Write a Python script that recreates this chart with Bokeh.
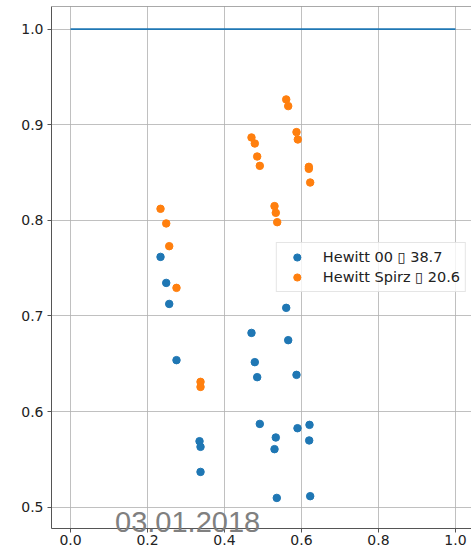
from bokeh.plotting import figure
from bokeh.layouts import column
from bokeh.models import FixedTicker, Span, Div, NumeralTickFormatter
from bokeh.embed import file_html
from bokeh.resources import INLINE

# Hewitt 00 series
h00_x = [0.2338, 0.2486, 0.2564, 0.2753, 0.3351, 0.3377, 0.3377,
         0.4701, 0.4787, 0.4849, 0.4917, 0.5332, 0.5299, 0.5358,
         0.5603, 0.5655, 0.5870, 0.5896, 0.6208, 0.6200, 0.6226]
h00_y = [0.7618, 0.7346, 0.7126, 0.6538, 0.5690, 0.5631, 0.5369,
         0.6823, 0.6517, 0.6360, 0.5871, 0.5729, 0.5607, 0.5097,
         0.7085, 0.6747, 0.6384, 0.5826, 0.5861, 0.5698, 0.5115]

# Hewitt Spirz series
spirz_x = [0.2338, 0.2486, 0.2564, 0.2753, 0.3377, 0.3377,
           0.4701, 0.4787, 0.4849, 0.4917, 0.5299, 0.5332, 0.5369,
           0.5603, 0.5655, 0.5870, 0.5904, 0.6190, 0.6190, 0.6226]
spirz_y = [0.8121, 0.7968, 0.7730, 0.7294, 0.6311, 0.6258,
           0.8867, 0.8804, 0.8668, 0.8570, 0.8149, 0.8079, 0.7981,
           0.9265, 0.9195, 0.8923, 0.8846, 0.8560, 0.8539, 0.8396]

# reference line
ref_x = [0.0, 1.0]
ref_y = [1.0, 1.0]

x_ticks = [0.0, 0.2, 0.4, 0.6, 0.8, 1.0]
y_ticks = [0.5, 0.6, 0.7, 0.8, 0.9, 1.0]

label_00 = "Hewitt 00 \u25af 38.7"
label_spirz = "Hewitt Spirz \u25af 20.6"
date_text = "03.01.2018"

BLUE = "#1f77b4"
ORANGE = "#ff7f0e"
SPINE = "#555555"
Y_TOP = 1.0237

p = figure(width=471, height=549, output_backend="svg", toolbar_location=None,
           x_range=(-0.0494, 1.0416), y_range=(0.4777, Y_TOP),
           min_border_left=51, min_border_top=6, min_border_right=0,
           min_border_bottom=21)

p.background_fill_color = "white"
p.border_fill_color = "white"
p.outline_line_color = None

p.line(ref_x, ref_y, line_color=BLUE, line_width=1.6)
p.scatter(h00_x, h00_y, marker="circle", size=7.5, fill_color=BLUE,
          line_color=BLUE, legend_label=label_00)
p.scatter(spirz_x, spirz_y, marker="circle", size=7.5, fill_color=ORANGE,
          line_color=ORANGE, legend_label=label_spirz)

# top spine
p.add_layout(Span(location=Y_TOP, dimension="width", line_color=SPINE,
                  line_width=1))

for ax, ticks in ((p.xaxis, x_ticks), (p.yaxis, y_ticks)):
    ax.ticker = FixedTicker(ticks=ticks)
    ax.formatter = NumeralTickFormatter(format="0.0")
    ax.minor_tick_line_color = None
    ax.major_tick_in = 0
    ax.major_tick_out = 4
    ax.axis_line_color = SPINE
    ax.major_tick_line_color = SPINE
    ax.major_label_text_font = "DejaVu Sans"
    ax.major_label_text_font_size = "14px"
    ax.major_label_text_color = "#222222"

p.xaxis.major_label_standoff = 2
p.yaxis.major_label_standoff = 4

for g in (p.xgrid, p.ygrid):
    g.grid_line_color = "#b0b0b0"
    g.grid_line_alpha = 0.8
    g.grid_line_width = 1

p.xgrid.ticker = FixedTicker(ticks=x_ticks)
p.ygrid.ticker = FixedTicker(ticks=y_ticks)

lg = p.legend[0]
lg.location = "center_right"
lg.margin = 5
lg.padding = 5
lg.spacing = 2
lg.glyph_width = 30
lg.glyph_height = 18
lg.label_standoff = 11
lg.label_text_font = "DejaVu Sans"
lg.label_text_font_size = "14.5px"
lg.label_text_color = "#222222"
lg.border_line_color = "#cccccc"
lg.border_line_width = 1
lg.background_fill_color = "white"
lg.background_fill_alpha = 0.8

# date stamp laid over the lower edge of the plot, crossing the x axis
stamp = Div(text=date_text, width=200, height=0,
            styles={"position": "relative", "top": "-52px", "left": "110px",
                    "overflow": "visible", "font-family": "Liberation Sans",
                    "font-size": "29px", "color": "#808080",
                    "white-space": "nowrap", "z-index": "10"})

layout = column(p, stamp, spacing=0)

open("out.html", "w").write(file_html(layout, INLINE))
